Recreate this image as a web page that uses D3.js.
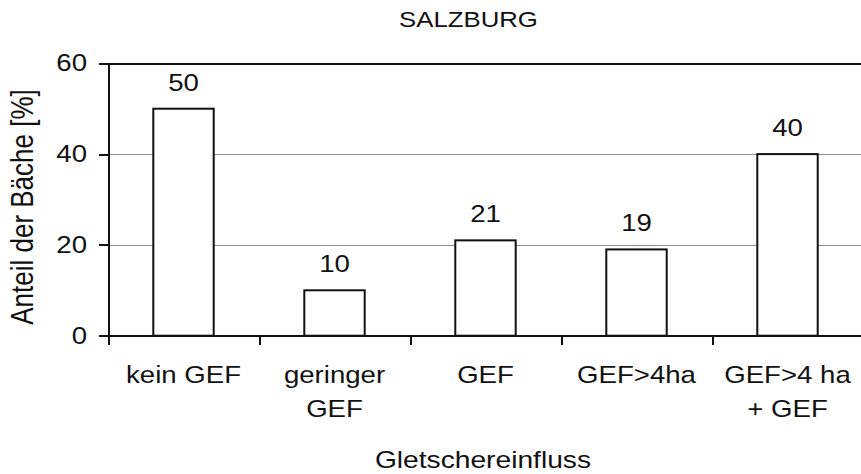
<!DOCTYPE html>
<html lang="de">
<head>
	<meta charset="UTF-8">
	<title>Salzburg</title>
	<script src="https://d3js.org/d3.v7.min.js"></script>
	<style>
		body {
			margin: 0;
			background-color: white;
		}
		svg {
			display: block;
			background-color: white;
			font-family: "Liberation Sans", Arial, sans-serif;
		}
		.axis path,
		.axis line {
			stroke: #111;
			stroke-width: 2;
			shape-rendering: crispEdges;
		}
		.axis text {
			font-size: 24px;
			fill: #111;
		}
		.grid line {
			stroke: #8a8a8a;
			stroke-width: 1;
			shape-rendering: crispEdges;
		}
		.grid path {
			display: none;
		}
		.bar {
			fill: #fff;
			stroke: #111;
			stroke-width: 2;
		}
	</style>
</head>
<body>
	<script>
		var categories = ['kein GEF', 'geringer\nGEF', 'GEF', 'GEF>4ha', 'GEF>4 ha\n+ GEF'];
		var values = [50, 10, 21, 19, 40];
		var yTicks = [0, 20, 40, 60];
		var title = 'SALZBURG';
		var xTitle = 'Gletschereinfluss';
		var yTitle = 'Anteil der Bäche [%]';

		var w = 861,
			h = 474,
			plotLeft = 108,
			plotRight = 863,
			plotTop = 63.3,
			plotBottom = 335.7,
			sx = 1.15; // the scan is a bit wider than Arial

		var svg = d3.select('body')
			.append('svg')
			.attr('width', w)
			.attr('height', h);

		var y = d3.scaleLinear()
			.domain([0, 60])
			.range([plotBottom, plotTop]);

		// bands without padding: labels + tick marks between categories
		var xCat = d3.scaleBand()
			.domain(categories)
			.range([plotLeft, plotRight]);

		var xBar = d3.scaleBand()
			.domain(categories)
			.range([plotLeft, plotRight])
			.paddingInner(0.6)
			.paddingOuter(0.3);

		// stretch text horizontally, keep its anchor where it was
		function stretch(sel, k) {
			sel.each(function () {
				var t = d3.select(this);
				var x = +t.attr('x') || 0;
				t.attr('x', x / k).attr('transform', 'scale(' + k + ',1)');
			});
		}

		// grid
		svg.append('g')
			.attr('class', 'grid')
			.attr('transform', 'translate(' + plotLeft + ',0)')
			.call(d3.axisLeft(y).tickValues([20, 40, 60]).tickSize(-(w - plotLeft)).tickFormat(''))
			.selectAll('.tick line')
			.filter(function (d) { return d === 60; })
			.style('stroke', '#111')
			.style('stroke-width', 2);

		// bars
		svg.selectAll('rect.bar')
			.data(values)
			.enter()
			.append('rect')
			.attr('class', 'bar')
			.attr('x', function (d, i) { return xBar(categories[i]); })
			.attr('y', function (d) { return y(d); })
			.attr('width', xBar.bandwidth())
			.attr('height', function (d) { return y(0) - y(d); });

		// value labels
		svg.selectAll('text.val')
			.data(values)
			.enter()
			.append('text')
			.attr('class', 'val')
			.attr('x', function (d, i) { return xBar(categories[i]) + xBar.bandwidth() / 2; })
			.attr('y', function (d) { return y(d) - 18; })
			.attr('text-anchor', 'middle')
			.style('font-size', '24px')
			.style('fill', '#111')
			.text(function (d) { return d; })
			.call(stretch, sx);

		// y axis
		var yAxis = svg.append('g')
			.attr('class', 'axis')
			.attr('transform', 'translate(' + plotLeft + ',0)')
			.call(d3.axisLeft(y).tickValues(yTicks).tickSize(9).tickSizeOuter(0).tickPadding(12));
		yAxis.selectAll('text').call(stretch, sx);

		// x axis: tick marks on the category borders
		var xb = d3.scaleLinear().domain([0, categories.length]).range([plotLeft, plotRight]);
		svg.append('g')
			.attr('class', 'axis')
			.attr('transform', 'translate(0,' + plotBottom + ')')
			.call(d3.axisBottom(xb).ticks(categories.length).tickSize(9).tickSizeOuter(0).tickFormat(''));

		// x axis: labels in the middle of each category
		var xLab = svg.append('g')
			.attr('class', 'axis')
			.attr('transform', 'translate(0,' + plotBottom + ')')
			.call(d3.axisBottom(xCat).tickSize(0).tickFormat(''));
		xLab.select('.domain').remove();
		xLab.selectAll('.tick text').each(function (d) {
			var t = d3.select(this).attr('y', null).attr('dy', null);
			d.split('\n').forEach(function (line, i) {
				t.append('tspan')
					.attr('x', 0)
					.attr('y', 47.6 + i * 33.3)
					.text(line);
			});
			t.attr('transform', 'scale(' + sx + ',1)');
		});

		// titles
		svg.append('text')
			.attr('x', 468.5 / 1.12)
			.attr('y', 27.3)
			.attr('transform', 'scale(1.12,1)')
			.attr('text-anchor', 'middle')
			.style('font-size', '23px')
			.style('fill', '#111')
			.text(title);

		svg.append('text')
			.attr('x', 483 / 1.2)
			.attr('y', 468.3)
			.attr('transform', 'scale(1.2,1)')
			.attr('text-anchor', 'middle')
			.style('font-size', '23.5px')
			.style('fill', '#111')
			.text(xTitle);

		svg.append('text')
			.attr('transform', 'translate(33.3,207) rotate(-90) scale(1,1.18)')
			.attr('text-anchor', 'middle')
			.style('font-size', '26px')
			.style('fill', '#111')
			.text(yTitle);
	</script>
</body>
</html>
